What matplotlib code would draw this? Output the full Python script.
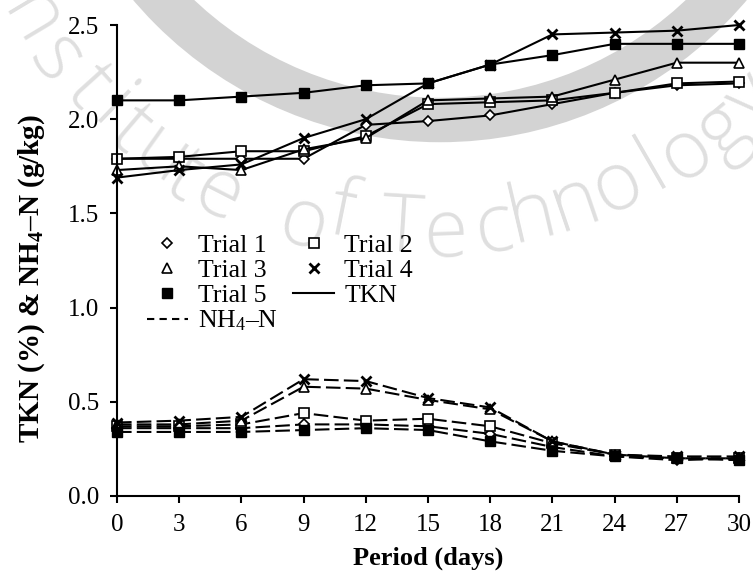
import matplotlib
matplotlib.use('Agg')
import matplotlib.pyplot as plt
from matplotlib.lines import Line2D
from matplotlib.patches import Circle
import numpy as np

# ---------------- data ----------------
days = [0, 3, 6, 9, 12, 15, 18, 21, 24, 27, 30]

tkn_trial1 = [1.79, 1.79, 1.79, 1.79, 1.97, 1.99, 2.02, 2.08, 2.14, 2.18, 2.19]
tkn_trial2 = [1.79, 1.80, 1.83, 1.83, 1.91, 2.08, 2.09, 2.10, 2.14, 2.19, 2.20]
tkn_trial3 = [1.73, 1.75, 1.73, 1.84, 1.90, 2.10, 2.11, 2.12, 2.21, 2.30, 2.30]
tkn_trial4 = [1.69, 1.73, 1.76, 1.90, 2.00, 2.19, 2.29, 2.45, 2.46, 2.47, 2.50]
tkn_trial5 = [2.10, 2.10, 2.12, 2.14, 2.18, 2.19, 2.29, 2.34, 2.40, 2.40, 2.40]

nh4_trial1 = [0.36, 0.36, 0.36, 0.38, 0.38, 0.37, 0.33, 0.26, 0.21, 0.19, 0.20]
nh4_trial2 = [0.37, 0.37, 0.38, 0.44, 0.40, 0.41, 0.37, 0.28, 0.22, 0.20, 0.20]
nh4_trial3 = [0.38, 0.38, 0.40, 0.58, 0.57, 0.51, 0.46, 0.29, 0.22, 0.20, 0.20]
nh4_trial4 = [0.39, 0.40, 0.42, 0.62, 0.61, 0.52, 0.47, 0.29, 0.22, 0.21, 0.21]
nh4_trial5 = [0.34, 0.34, 0.34, 0.35, 0.36, 0.35, 0.29, 0.24, 0.21, 0.20, 0.19]

trial_labels = ['Trial 1', 'Trial 2', 'Trial 3', 'Trial 4', 'Trial 5']
x_ticks = [0, 3, 6, 9, 12, 15, 18, 21, 24, 27, 30]
y_ticks = [0.0, 0.5, 1.0, 1.5, 2.0, 2.5]

# ---------------- style ----------------
plt.rcParams['font.family'] = ['Liberation Serif', 'DejaVu Serif']
plt.rcParams['mathtext.fontset'] = 'custom'
plt.rcParams['mathtext.rm'] = 'Liberation Serif'
plt.rcParams['mathtext.it'] = 'Liberation Serif:italic'
plt.rcParams['mathtext.bf'] = 'Liberation Serif:bold'

W, H = 753, 584
fig = plt.figure(figsize=(W / 100, H / 100), dpi=100)

# ---------------- watermark ----------------
ring = Circle((440 / 100, (H + 260) / 100), 3.80, transform=fig.dpi_scale_trans,
              fill=False, ec='#d3d3d3', lw=32, zorder=-5)
fig.add_artist(ring)

wm_chars = [('I', 8, -4), ('n', 30, 20), ('s', 56, 60), ('t', 88, 88), ('i', 112, 110),
            ('t', 131, 131), ('u', 160, 157), ('t', 184, 178), ('e', 218, 195),
            ('o', 303, 225), ('f', 342, 215),
            ('T', 402, 230), ('e', 446, 235), ('c', 494, 230), ('h', 532, 217),
            ('n', 575, 204), ('o', 618, 186), ('l', 653, 166), ('o', 686, 154),
            ('g', 722, 130), ('y', 752, 100)]
cx, cy = 430, -220
for ch, px, py in wm_chars:
    ang = np.degrees(np.arctan2(px - cx, py - cy))
    fig.text(px / W, 1 - py / H, ch, fontsize=58, family='Open Sans', fontweight='light',
             color='#dfdfdf', ha='center', va='center', rotation=ang,
             rotation_mode='anchor', zorder=-4)

# ---------------- axes ----------------
ax = fig.add_axes([117 / W, (H - 496) / H, 622 / W, 471 / H])
ax.set_facecolor('none')
ax.set_zorder(1)

markers = [dict(marker='D', ms=5.5, mfc='white', mec='black', mew=1.2),
           dict(marker='s', ms=7, mfc='white', mec='black', mew=1.2),
           dict(marker='^', ms=7.5, mfc='white', mec='black', mew=1.2),
           dict(marker='x', ms=7, mec='black', mew=2.0),
           dict(marker='s', ms=7, mfc='black', mec='black', mew=1.0)]

tkn = [tkn_trial1, tkn_trial2, tkn_trial3, tkn_trial4, tkn_trial5]
nh4 = [nh4_trial1, nh4_trial2, nh4_trial3, nh4_trial4, nh4_trial5]

for vals, mk in zip(tkn, markers):
    ax.plot(days, vals, color='black', lw=1.5, clip_on=False, **mk)
for vals, mk in zip(nh4, markers):
    ax.plot(days, vals, color='black', lw=1.5, dashes=(7, 2.5), clip_on=False, **mk)

ax.set_xlim(0, 30)
ax.set_ylim(0, 2.5)
ax.set_xticks(x_ticks)
ax.set_yticks(y_ticks)
ax.set_yticklabels([f'{v:.1f}' for v in y_ticks])
ax.spines['top'].set_visible(False)
ax.spines['right'].set_visible(False)
for s in ['left', 'bottom']:
    ax.spines[s].set_linewidth(1.5)
ax.tick_params(direction='out', length=5, width=1.5, labelsize=18, pad=8)

ax.set_xlabel('Period (days)', fontsize=19, fontweight='bold')
ax.xaxis.set_label_coords(0.5, -0.108)
ax.set_ylabel(r'TKN (%) & NH$_\mathregular{4}$–N (g/kg)', fontsize=21, fontweight='bold')
ax.yaxis.set_label_coords(-0.113, 0.462)

# ---------------- legend ----------------
h = [Line2D([], [], ls='none', color='black', **mk) for mk in markers]
h_tkn = Line2D([], [], color='black', lw=1.5)
h_nh4 = Line2D([], [], color='black', lw=1.5, dashes=(3.5, 2.5))
handles = [h[0], h[2], h[4], h_nh4, h[1], h[3], h_tkn]
labels = [trial_labels[0], trial_labels[2], trial_labels[4], r'NH$_\mathregular{4}$–N',
          trial_labels[1], trial_labels[3], 'TKN']
ax.legend(handles, labels, ncol=2, loc='upper left', bbox_to_anchor=(0.048, 0.557),
          frameon=False, fontsize=18.5, borderpad=0, borderaxespad=0, labelspacing=0.08,
          handlelength=1.6, handletextpad=0.4, columnspacing=0.58, numpoints=1)

fig.savefig('out.png', dpi=100, facecolor='white')
